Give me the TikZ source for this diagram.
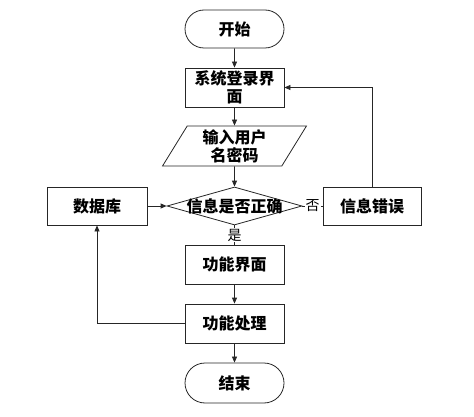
\documentclass[tikz,border=0pt]{standalone}
\usepackage{fontspec}
\setmainfont{Noto Sans CJK SC}
\usetikzlibrary{shapes.geometric,shapes.misc,arrows.meta}
\begin{document}
\begin{tikzpicture}[x=1pt,y=-1pt,
  base/.style={draw=black!85, line width=0.8pt, font=\bfseries\fontsize{16}{18}\selectfont, inner sep=0pt, align=center},
  term/.style={base, rounded rectangle, minimum width=99pt, minimum height=38pt},
  proc/.style={base, rectangle, minimum width=99pt, minimum height=39pt},
  io/.style={base, trapezium, trapezium left angle=63.4, trapezium right angle=116.6, trapezium stretches=true, minimum width=145pt, minimum height=40pt},
  decision/.style={base, diamond, minimum width=135pt, minimum height=38pt},
  conn/.style={draw=black!85, line width=0.8pt},
  arr/.style={conn, -{Triangle[length=6pt,width=5pt]}},
  lbl/.style={fill=white, inner sep=1pt, font=\fontsize{14}{16}\selectfont}
]
\useasboundingbox (0,0) rectangle (474,417);
\node[term] (start) at (234.5,29) {开始};
\node[proc] (login) at (234.5,87.5) {系统登录界\\面};
\node[io] (input) at (234.5,146) {输入用户\\名密码};
\node[decision] (dec) at (234.5,206) {\makebox[0pt]{信息是否正确}};
\node[proc, minimum width=100pt, minimum height=38pt] (db) at (97,206) {数据库};
\node[proc, minimum width=98pt, minimum height=38pt] (err) at (372,206) {信息错误};
\node[proc] (func) at (234.5,264.5) {功能界面};
\node[proc] (work) at (234.5,323.5) {功能处理};
\node[term, minimum height=40pt] (end) at (234.5,383) {结束};

\draw[arr] (start) -- (login);
\draw[arr] (login) -- (input);
\draw[arr] (input) -- (dec);
\draw[arr] (db) -- (dec);
\draw[conn] (dec.east) -- node[lbl] {否} (err.west);
\draw[arr] (err.north) |- (login.east);
\draw[conn] (dec.south) -- node[lbl] {是} (func.north);
\draw[arr] (func) -- (work);
\draw[arr] (work) -- (end);
\draw[arr] (work.west) -| (db.south);
\end{tikzpicture}
\end{document}
